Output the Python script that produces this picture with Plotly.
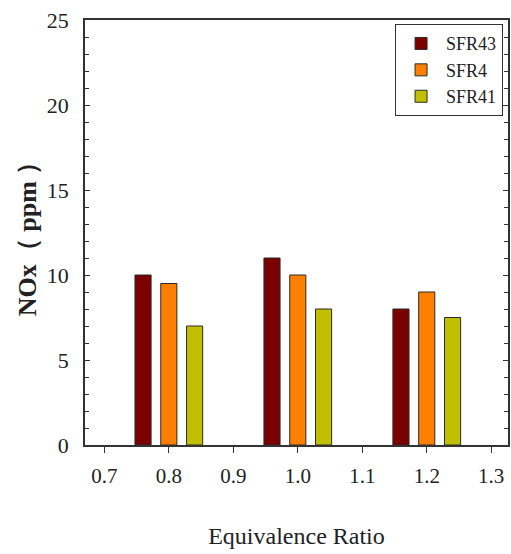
import plotly.graph_objects as go

ratios = [0.8, 1.0, 1.2]
sfr43 = [10, 11, 8]
sfr4 = [9.5, 10, 9]
sfr41 = [7, 8, 7.5]
series_names = ["SFR43", "SFR4", "SFR41"]
series_colors = ["#7b0000", "#ff8000", "#c0c000"]
x_ticks = [0.7, 0.8, 0.9, 1.0, 1.1, 1.2, 1.3]
x_tick_labels = ["0.7", "0.8", "0.9", "1.0", "1.1", "1.2", "1.3"]

FONT = "Liberation Serif, Times New Roman, serif"
AX = "#333333"

fig = go.Figure()
for name, vals, col in zip(series_names, [sfr43, sfr4, sfr41], series_colors):
    fig.add_trace(go.Bar(
        x=ratios, y=vals, name=name,
        marker=dict(color=col, line=dict(color="#2a2a2a", width=1)),
    ))

fig.update_layout(
    width=511, height=554,
    margin=dict(l=85, r=3, t=20, b=109),
    paper_bgcolor="white", plot_bgcolor="white",
    barmode="group", bargap=0.4, bargroupgap=0.375,
    font=dict(family=FONT, color="#222222"),
    legend=dict(
        x=0.733, y=0.99, xanchor="left", yanchor="top",
        bordercolor="#333333", borderwidth=1, bgcolor="white",
        font=dict(family=FONT, size=18, color="#222222"),
        itemwidth=40, tracegroupgap=4,
    ),
    xaxis=dict(
        range=[0.67, 1.326], automargin=False,
        tickvals=x_ticks, ticktext=x_tick_labels,
        ticks="outside", ticklen=6, tickwidth=1, tickcolor=AX,
        showline=True, linecolor=AX, linewidth=1.5, mirror=True,
        showgrid=False, zeroline=False,
        tickfont=dict(family=FONT, size=21, color="#222222"),
        ticklabelstandoff=5,
        title=dict(text="Equivalence Ratio", font=dict(family=FONT, size=24, color="#222222"), standoff=40),
    ),
    yaxis=dict(
        range=[0, 25], dtick=5, automargin=False,
        ticks="inside", ticklen=5, tickwidth=1, tickcolor=AX,
        minor=dict(dtick=1, ticks="inside", ticklen=4, tickcolor=AX),
        showline=True, linecolor=AX, linewidth=1.5, mirror="ticks",
        showgrid=False, zeroline=False,
        tickfont=dict(family=FONT, size=22, color="#222222"),
        ticklabelstandoff=10,
        title=dict(text="<b>NOx（ ppm ）</b>", font=dict(family=FONT, size=26, color="#222222"), standoff=3),
    ),
)

fig.write_html("out.html", config={"displayModeBar": False},
               post_script="document.body.style.margin='0';document.body.style.padding='0';")
